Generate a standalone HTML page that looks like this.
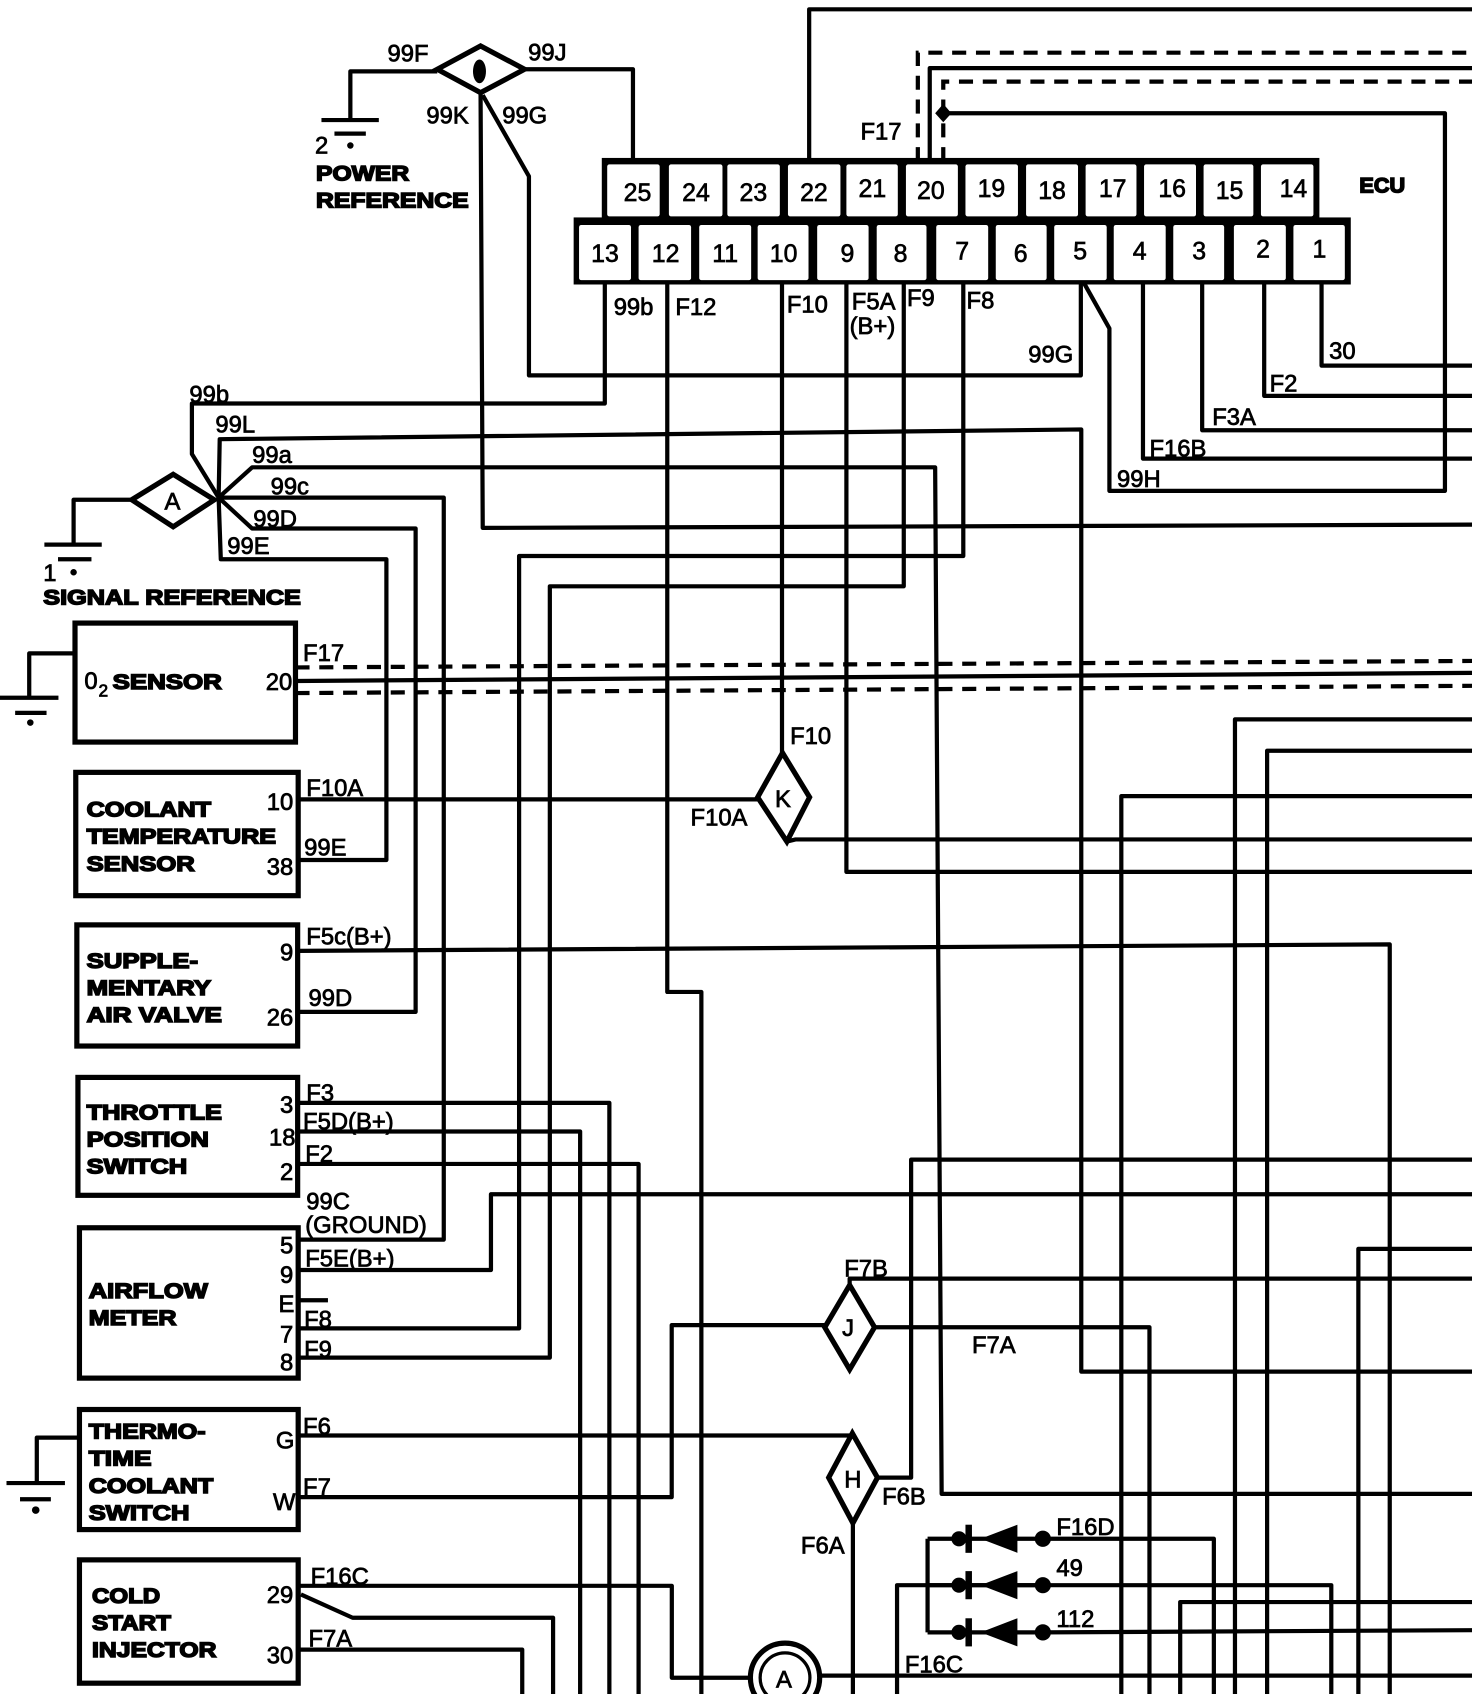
<!DOCTYPE html>
<html><head><meta charset="utf-8"><style>
html,body{margin:0;padding:0;background:#fff;}
svg{display:block;}
.w{fill:none;stroke:#000;stroke-width:3.9;stroke-linejoin:round;}
.d{fill:none;stroke:#000;stroke-width:3.9;stroke-dasharray:13 9;}
.t{font-family:"Liberation Sans",sans-serif;font-size:22px;fill:#000;stroke:#000;stroke-width:0.7;}
.n{font-family:"Liberation Sans",sans-serif;font-size:23px;fill:#000;stroke:#000;stroke-width:0.6;text-anchor:middle;}
.b{font-family:"Liberation Sans",sans-serif;font-size:20px;font-weight:bold;fill:#000;stroke:#000;stroke-width:1.4;}
.p{font-family:"Liberation Sans",sans-serif;font-size:22px;fill:#000;stroke:#000;stroke-width:0.7;text-anchor:end;}
.box{fill:none;stroke:#000;stroke-width:4.8;}
</style></head><body>
<svg xmlns="http://www.w3.org/2000/svg" width="1472" height="1694" viewBox="0 0 1360 1566" preserveAspectRatio="none">
<rect x="0" y="0" width="1360" height="1566" fill="#fff"/>

<!-- ECU -->
<rect x="556" y="146" width="663" height="60" fill="#000"/>
<rect x="530" y="201" width="718" height="62" fill="#000"/>
<g fill="#fff">
<rect x="561" y="152" width="48.5" height="48" rx="2"/>
<rect x="618" y="152" width="49.5" height="48" rx="2"/>
<rect x="672" y="152" width="48.5" height="48" rx="2"/>
<rect x="728" y="152" width="48.5" height="48" rx="2"/>
<rect x="782" y="152" width="47.5" height="48" rx="2"/>
<rect x="837" y="152" width="48" height="48" rx="2"/>
<rect x="892" y="152" width="48.5" height="48" rx="2"/>
<rect x="948" y="152" width="48" height="48" rx="2"/>
<rect x="1003" y="152" width="47" height="48" rx="2"/>
<rect x="1057" y="152" width="48" height="48" rx="2"/>
<rect x="1112" y="152" width="46" height="48" rx="2"/>
<rect x="1165" y="152" width="48.5" height="48" rx="2"/>
<rect x="535" y="208" width="48" height="51" rx="2"/>
<rect x="590" y="208" width="48.5" height="51" rx="2"/>
<rect x="646" y="208" width="48" height="51" rx="2"/>
<rect x="700" y="208" width="47" height="51" rx="2"/>
<rect x="755" y="208" width="47.5" height="51" rx="2"/>
<rect x="810" y="208" width="46" height="51" rx="2"/>
<rect x="865" y="208" width="48" height="51" rx="2"/>
<rect x="920" y="208" width="47" height="51" rx="2"/>
<rect x="974" y="208" width="48.5" height="51" rx="2"/>
<rect x="1029" y="208" width="48" height="51" rx="2"/>
<rect x="1084" y="208" width="47" height="51" rx="2"/>
<rect x="1140" y="208" width="48" height="51" rx="2"/>
<rect x="1195" y="208" width="47.5" height="51" rx="2"/>
</g>
<g class="n">
<text x="589" y="186">25</text><text x="643" y="186">24</text><text x="696" y="186">23</text><text x="752" y="186">22</text>
<text x="806" y="182">21</text><text x="860" y="184">20</text><text x="916" y="182">19</text><text x="972" y="184">18</text>
<text x="1028" y="182">17</text><text x="1083" y="182">16</text><text x="1136" y="184">15</text><text x="1195" y="182">14</text>
<text x="559" y="242">13</text><text x="615" y="242">12</text><text x="670" y="242">11</text><text x="724" y="242">10</text>
<text x="783" y="242">9</text><text x="832" y="242">8</text><text x="889" y="240">7</text><text x="943" y="242">6</text>
<text x="998" y="240">5</text><text x="1053" y="240">4</text><text x="1108" y="240">3</text><text x="1167" y="238">2</text><text x="1219" y="238">1</text>
</g>
<text class="b" x="1256" y="178">ECU</text>

<!-- top region wires -->
<path class="w" d="M404,66 H323.7 V111"/>
<path class="w" d="M297,111 H350 M309,123.5 H338"/>
<circle cx="323.7" cy="134.5" r="3"/>
<polygon points="404,64 444,42.5 484.6,64 444,85.7" fill="#fff" stroke="#000" stroke-width="4.8"/>
<ellipse cx="443" cy="66" rx="6" ry="11" fill="#000"/>
<path class="w" d="M484.6,64 H584.8 V149"/>
<path class="w" d="M444,86 L446,488 L1360,485"/>
<path class="w" d="M446,88 L488.7,163 V347 H998.6 V262"/>
<path class="w" d="M747.6,149 V8.6 H1360"/>
<path class="d" d="M848,149 V48.7 H1360"/>
<path class="w" d="M859,149 V63 H1360"/>
<path class="d" d="M871.5,149 V75.5 H1360"/>
<polygon points="871.5,96 879,104.7 871.5,113 864,104.7" fill="#000"/>
<path class="w" d="M871.5,104.7 H1335 V453.8 H1025 V303.6 L1001.7,262"/>
<path class="w" d="M1221,263 V338 H1360 M1168,263 V366 H1360 M1110.7,263 V397.7 H1360 M1056,263 V424 H1360"/>

<!-- ECU bottom pins -->
<path class="w" d="M558.8,263 V373 H177.3 V419.7 L202,460"/>
<path class="w" d="M616.5,263 V917 H648 V1566"/>
<path class="w" d="M722.5,263 V696"/>
<path class="w" d="M782,263 V806 H1360"/>
<path class="w" d="M835,263 V542 H508 V1255 H276"/>
<path class="w" d="M890,263 V514 H479.6 V1228 H276"/>

<!-- star A -->
<path class="w" d="M202,460 L203,406 L999,397 V1268 H1360"/>
<path class="w" d="M202,460 L233,432 H864 L870,1381 H1360"/>
<path class="w" d="M202,460 H410 V1146 H276"/>
<path class="w" d="M202,460 L233,488.6 H384 V935.4 H276"/>
<path class="w" d="M202,460 L204,517 H357 V795 H276"/>
<polygon points="121.7,462 160,438.5 198,462 160,487" fill="#fff" stroke="#000" stroke-width="4.8"/>
<text class="t" x="152" y="471">A</text>
<path class="w" d="M121.7,462 H68 V503.5 M41,503.5 H94 M53.6,517 H84.5"/>
<circle cx="68" cy="529" r="3"/>

<!-- O2 sensor -->
<rect class="box" x="69.3" y="576" width="203.7" height="110"/>
<path class="w" d="M69.3,604 H27 V645 M0,645 H54 M14,659 H43"/>
<circle cx="28" cy="668" r="3"/>
<path class="d" d="M273,617 L1360,611"/>
<path class="w" d="M273,629.5 L1360,622"/>
<path class="d" d="M273,640.7 L1360,634"/>

<!-- coolant -->
<rect class="box" x="70" y="714" width="205.5" height="114"/>
<path class="w" d="M275.5,739 H700"/>
<polygon points="700,737 723,696 748,737 727,778" fill="#fff" stroke="#000" stroke-width="4.8"/>
<text class="t" x="716" y="746">K</text>
<path class="w" d="M727,778 L735,776 H1360"/>

<!-- SAV -->
<rect class="box" x="71" y="855" width="204" height="112"/>
<path class="w" d="M275,879 L1284,873 V1566"/>

<!-- throttle -->
<rect class="box" x="72" y="996" width="203" height="109"/>
<path class="w" d="M275,1019.5 H563 V1566 M275,1046 H536 V1566 M275,1076 H590 V1566"/>

<!-- airflow -->
<rect class="box" x="73.4" y="1135" width="202.1" height="139"/>
<path class="w" d="M275.5,1174 H453.6 V1104 H1360 M275.5,1202 H303"/>

<!-- thermo -->
<rect class="box" x="73.4" y="1303" width="202.1" height="111"/>
<path class="w" d="M73.4,1329 H34 V1371 M6,1371 H60 M18.5,1386 H47"/>
<circle cx="33" cy="1396" r="3.5"/>
<path class="w" d="M275.5,1327 H787.5"/>
<path class="w" d="M275.5,1384 H620.6 V1225 H762"/>
<polygon points="762,1227 785,1188 808,1227 785,1266" fill="#fff" stroke="#000" stroke-width="4.8"/>
<text class="t" x="778" y="1235">J</text>
<path class="w" d="M785,1188 V1182 H1360"/>
<path class="w" d="M808,1227 H1062 V1566"/>
<polygon points="765.6,1366 787.5,1325 810.7,1366 788,1408" fill="#fff" stroke="#000" stroke-width="4.8"/>
<text class="t" x="780" y="1375">H</text>
<path class="w" d="M810.7,1366 H841.8 V1072 H1360"/>
<path class="w" d="M788,1408 V1566"/>

<!-- cold start -->
<rect class="box" x="73.4" y="1442" width="202.1" height="114"/>
<path class="w" d="M275.5,1466 H620.7 V1551 H692"/>
<path class="w" d="M278,1474 L325.8,1495.5 H511 V1566"/>
<path class="w" d="M275.5,1525 H482.5 V1566"/>
<circle cx="725.3" cy="1551" r="32" fill="#fff" stroke="#000" stroke-width="4.8"/>
<circle cx="725.3" cy="1551" r="23" fill="none" stroke="#000" stroke-width="3"/>
<text class="t" x="717" y="1560">A</text>
<path class="w" d="M758,1549 H1360"/>

<!-- diodes -->
<path class="w" d="M857,1422.5 V1509 M857,1422.5 H963.5 M857,1465.4 H963.5 M857,1509 H963.5"/>
<g fill="#000">
<polygon points="940,1409.5 940,1435.5 906,1422.5"/><rect x="892" y="1409.5" width="6" height="26"/><circle cx="886" cy="1422.5" r="7"/><circle cx="963.5" cy="1422.5" r="7.5"/>
<polygon points="940,1452.4 940,1478.4 906,1465.4"/><rect x="892" y="1452.4" width="6" height="26"/><circle cx="886" cy="1465.4" r="7"/><circle cx="963.5" cy="1465.4" r="7.5"/>
<polygon points="940,1496 940,1522 906,1509"/><rect x="892" y="1496" width="6" height="26"/><circle cx="886" cy="1509" r="7"/><circle cx="963.5" cy="1509" r="7.5"/>
</g>
<path class="w" d="M963.5,1422.5 H1121.5 V1566"/>
<path class="w" d="M828.8,1566 V1465.4 H1230 V1566"/>
<path class="w" d="M963.5,1509 L1360,1507"/>

<!-- right verticals -->
<path class="w" d="M1141,1566 V665 H1360 M1170.7,1566 V694 H1360 M1036,1566 V736 H1360 M1255,1566 V1154.5 H1360 M1090.4,1566 V1481 H1360"/>

<!-- labels -->
<g class="t">
<text x="358" y="57">99F</text><text x="488" y="56">99J</text>
<text x="394" y="114">99K</text><text x="464" y="114">99G</text>
<text x="795" y="129">F17</text>
<text x="567" y="291">99b</text><text x="624" y="291">F12</text><text x="727" y="289">F10</text>
<text x="787" y="286">F5A</text><text x="785" y="309">(B+)</text><text x="838" y="283">F9</text><text x="893" y="285">F8</text>
<text x="950" y="335">99G</text><text x="1228" y="332">30</text><text x="1173" y="362">F2</text>
<text x="1120" y="393">F3A</text><text x="1062" y="422">F16B</text><text x="1032" y="450">99H</text>
<text x="175" y="372">99b</text><text x="199" y="400">99L</text><text x="233" y="428">99a</text>
<text x="250" y="457">99c</text><text x="234" y="487">99D</text><text x="210" y="512">99E</text>
<text x="280" y="611">F17</text>
<text x="283" y="736">F10A</text><text x="281" y="791">99E</text>
<text x="283" y="873">F5c(B+)</text><text x="285" y="930">99D</text>
<text x="283" y="1018">F3</text><text x="280" y="1044">F5D(B+)</text><text x="282" y="1074">F2</text>
<text x="283" y="1118">99C</text><text x="282" y="1140">(GROUND)</text>
<text x="282" y="1171">F5E(B+)</text><text x="281" y="1227">F8</text><text x="281" y="1255">F9</text>
<text x="280" y="1326">F6</text><text x="280" y="1382">F7</text>
<text x="287" y="1465">F16C</text><text x="285" y="1522">F7A</text>
<text x="730" y="688">F10</text><text x="638" y="763">F10A</text>
<text x="780" y="1180">F7B</text><text x="898" y="1251">F7A</text>
<text x="815" y="1391">F6B</text><text x="740" y="1436">F6A</text>
<text x="976" y="1419">F16D</text><text x="976" y="1457">49</text><text x="976" y="1504">112</text>
<text x="836" y="1546">F16C</text>
<text x="291" y="142">2</text><text x="40" y="537">1</text>
</g>
<g class="p">
<text x="270" y="638">20</text>
<text x="271" y="749">10</text><text x="271" y="809">38</text>
<text x="271" y="888">9</text><text x="271" y="948">26</text>
<text x="271" y="1029">3</text><text x="273" y="1059">18</text><text x="271" y="1091">2</text>
<text x="271" y="1159">5</text><text x="271" y="1186">9</text><text x="272" y="1213">E</text><text x="271" y="1241">7</text><text x="271" y="1267">8</text>
<text x="272" y="1339">G</text><text x="273" y="1396">W</text>
<text x="271" y="1482">29</text><text x="271" y="1538">30</text>
</g>
<g class="b">
<text x="292" y="167" textLength="86" lengthAdjust="spacingAndGlyphs">POWER</text>
<text x="292" y="192" textLength="141" lengthAdjust="spacingAndGlyphs">REFERENCE</text>
<text x="40" y="559" textLength="238" lengthAdjust="spacingAndGlyphs">SIGNAL REFERENCE</text>
<text x="104" y="637" textLength="101" lengthAdjust="spacingAndGlyphs">SENSOR</text>
<text x="80" y="755" textLength="115" lengthAdjust="spacingAndGlyphs">COOLANT</text>
<text x="80" y="780" textLength="175" lengthAdjust="spacingAndGlyphs">TEMPERATURE</text>
<text x="80" y="805" textLength="100" lengthAdjust="spacingAndGlyphs">SENSOR</text>
<text x="80" y="895" textLength="103" lengthAdjust="spacingAndGlyphs">SUPPLE-</text>
<text x="80" y="920" textLength="115" lengthAdjust="spacingAndGlyphs">MENTARY</text>
<text x="80" y="945" textLength="125" lengthAdjust="spacingAndGlyphs">AIR VALVE</text>
<text x="80" y="1035" textLength="125" lengthAdjust="spacingAndGlyphs">THROTTLE</text>
<text x="80" y="1060" textLength="113" lengthAdjust="spacingAndGlyphs">POSITION</text>
<text x="80" y="1085" textLength="93" lengthAdjust="spacingAndGlyphs">SWITCH</text>
<text x="82" y="1200" textLength="110" lengthAdjust="spacingAndGlyphs">AIRFLOW</text>
<text x="82" y="1225" textLength="81" lengthAdjust="spacingAndGlyphs">METER</text>
<text x="82" y="1330" textLength="108" lengthAdjust="spacingAndGlyphs">THERMO-</text>
<text x="82" y="1355" textLength="58" lengthAdjust="spacingAndGlyphs">TIME</text>
<text x="82" y="1380" textLength="115" lengthAdjust="spacingAndGlyphs">COOLANT</text>
<text x="82" y="1405" textLength="93" lengthAdjust="spacingAndGlyphs">SWITCH</text>
<text x="85" y="1482" textLength="63" lengthAdjust="spacingAndGlyphs">COLD</text>
<text x="85" y="1507" textLength="73" lengthAdjust="spacingAndGlyphs">START</text>
<text x="85" y="1532" textLength="115" lengthAdjust="spacingAndGlyphs">INJECTOR</text>
</g>
<text class="t" x="78" y="637">0</text><text class="t" x="91" y="644" style="font-size:16px">2</text>
</svg>
</body></html>
